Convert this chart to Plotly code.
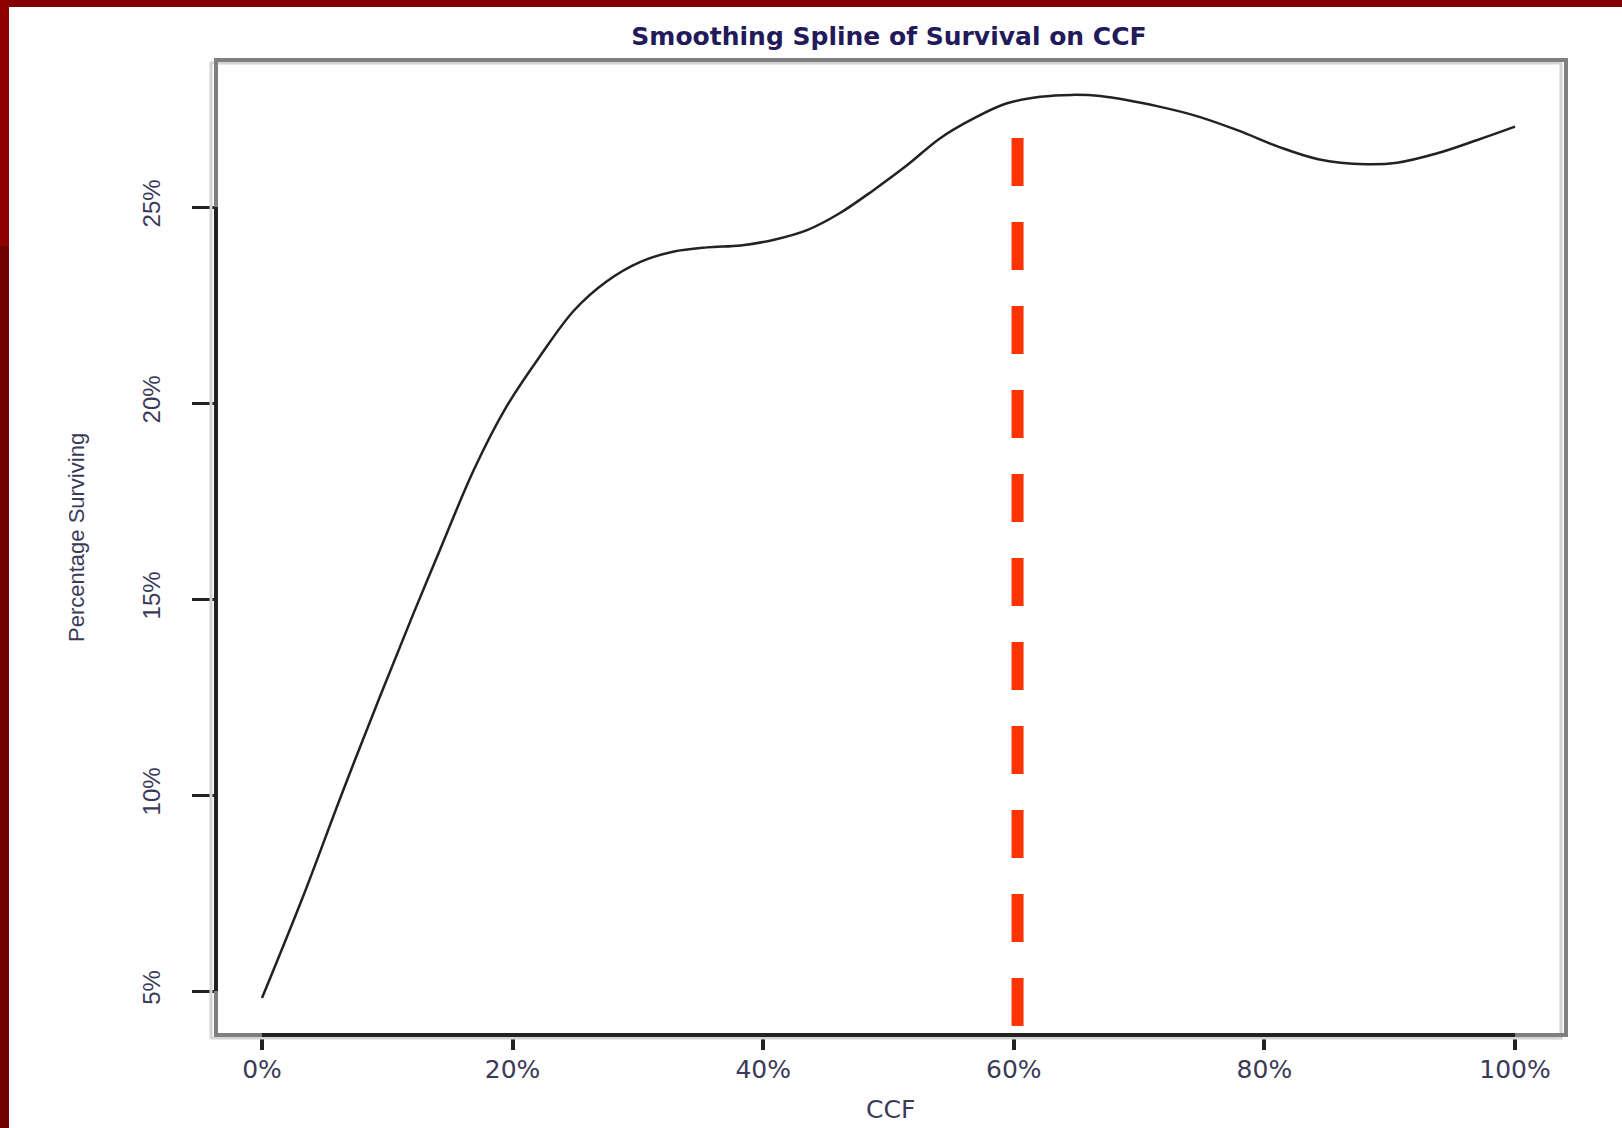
import plotly.graph_objects as go

# ---- data ----
ccf_pct = [0, 3.3, 6.3, 9.4, 12.1, 14.2, 16.9, 19.5, 22.2, 24.9, 27.5, 30.2, 32.8,
           35.5, 38.2, 40.8, 43.5, 46.1, 48.8, 51.5, 54.1, 56.8, 59.4, 62.1, 64.6,
           66.9, 71.6, 74.8, 78.0, 81.1, 84.3, 88.1, 90.6, 93.8, 97.0, 100]
survival_pct = [4.82, 7.43, 9.97, 12.50, 14.64, 16.25, 18.29, 19.90, 21.20, 22.36, 23.10,
                23.60, 23.86, 23.97, 24.02, 24.16, 24.41, 24.84, 25.43, 26.07, 26.75,
                27.26, 27.64, 27.81, 27.86, 27.83, 27.56, 27.30, 26.94, 26.54, 26.22,
                26.09, 26.13, 26.37, 26.71, 27.05]
cutoff_x = [60.3, 60.3]
cutoff_y = [26.76, 4.11]

x_tick_vals = [0, 20, 40, 60, 80, 100]
x_tick_text = ["0%", "20%", "40%", "60%", "80%", "100%"]
y_tick_vals = [5, 10, 15, 20, 25]
y_tick_text = ["5%", "10%", "15%", "20%", "25%"]

W, H = 1622, 1128
L, R, T, B = 216, 56, 60, 93
PW, PH = W - L - R, H - T - B


def px_x(p):
    return (p - L) / PW


def px_y(p):
    return (H - B - p) / PH


fig = go.Figure()
fig.add_trace(go.Scatter(x=ccf_pct, y=survival_pct, mode="lines",
                         line=dict(color="#222222", width=2.5, shape="spline", smoothing=1.0),
                         hoverinfo="skip", showlegend=False))
fig.add_trace(go.Scatter(x=cutoff_x, y=cutoff_y, mode="lines",
                         line=dict(color="#FF3300", width=12, dash="48px,36px"),
                         hoverinfo="skip", showlegend=False))

txt = "#3a3a58"
shapes = [
    # red page border (top and left)
    dict(type="rect", xref="paper", yref="paper", x0=px_x(0), x1=px_x(W), y0=px_y(7), y1=px_y(0),
         fillcolor="#820000", line=dict(width=0), layer="above"),
    dict(type="rect", xref="paper", yref="paper", x0=px_x(0), x1=px_x(9), y0=px_y(246), y1=px_y(0),
         fillcolor="#8E0000", line=dict(width=0), layer="above"),
    dict(type="rect", xref="paper", yref="paper", x0=px_x(0), x1=px_x(9), y0=px_y(H), y1=px_y(246),
         fillcolor="#700000", line=dict(width=0), layer="above"),
    # light ghost frame
    dict(type="rect", xref="paper", yref="paper", x0=px_x(L - 5), x1=px_x(L + PW - 5),
         y0=px_y(T + PH + 3), y1=px_y(T + 3), line=dict(color="#d4d4d4", width=3), layer="above"),
    # dark frame
    dict(type="rect", xref="paper", yref="paper", x0=0, x1=1, y0=0, y1=1,
         line=dict(color="#7f7f7f", width=4), layer="above"),
    # R-style axis lines spanning tick range
    dict(type="line", xref="x", yref="paper", x0=x_tick_vals[0], x1=x_tick_vals[-1], y0=0, y1=0,
         line=dict(color="#222222", width=4), layer="above"),
    dict(type="line", xref="paper", yref="y", x0=0, x1=0, y0=y_tick_vals[0], y1=y_tick_vals[-1],
         line=dict(color="#222222", width=4), layer="above"),
]

fig.update_layout(
    width=W, height=H, autosize=False,
    margin=dict(l=L, r=R, t=T, b=B, pad=0),
    paper_bgcolor="white", plot_bgcolor="white",
    title=dict(text="Smoothing Spline of Survival on CCF", x=889 / W,
               xref="container", xanchor="center", y=1 - 36 / H, yref="container", yanchor="middle",
               font=dict(family="DejaVu Sans", size=25, color="#221a5a", weight="bold")),
    xaxis=dict(range=[-3.67, 104.07], tickvals=x_tick_vals, ticktext=x_tick_text,
               ticks="outside", ticklen=14, tickwidth=4, tickcolor="#222222",
               showgrid=False, zeroline=False, showline=False,
               tickfont=dict(family="DejaVu Sans", size=25, color=txt), ticklabelstandoff=-2),
    yaxis=dict(range=[3.878, 28.75], tickvals=y_tick_vals, ticktext=y_tick_text,
               ticks="outside", ticklen=23, tickwidth=3, tickcolor="#222222",
               showgrid=False, zeroline=False, showline=False, tickangle=-90,
               tickfont=dict(family="Liberation Sans", size=24, color=txt), ticklabelstandoff=22),
    shapes=shapes,
    annotations=[
        dict(text="CCF", xref="paper", yref="paper", x=px_x(890), y=px_y(1109),
             xanchor="center", yanchor="middle", showarrow=False,
             font=dict(family="DejaVu Sans", size=25, color=txt)),
        dict(text="Percentage Surviving", xref="paper", yref="paper", x=px_x(76), y=px_y(538),
             xanchor="center", yanchor="middle", showarrow=False, textangle=-90,
             font=dict(family="Liberation Sans", size=22, color=txt)),
    ],
)

fig.write_html("out.html", config={"displayModeBar": False},
               post_script="document.body.style.margin='0';")
